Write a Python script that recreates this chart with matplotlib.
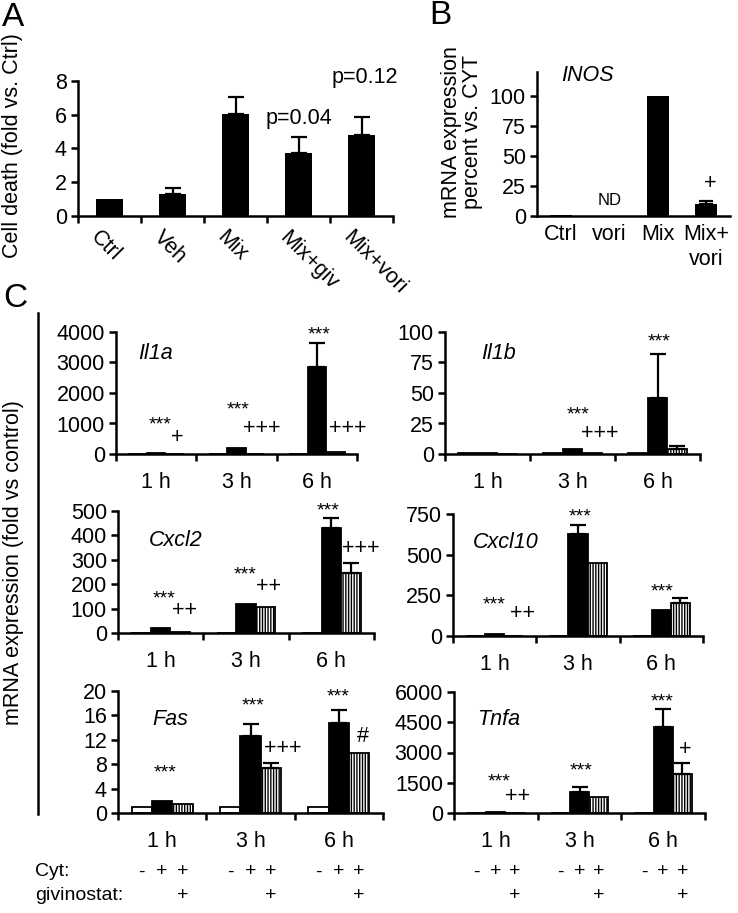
import matplotlib
matplotlib.use("Agg")
import matplotlib.pyplot as plt
from matplotlib.lines import Line2D
from matplotlib.transforms import blended_transform_factory, ScaledTranslation

plt.rcParams["font.family"] = ["Liberation Sans", "DejaVu Sans"]
plt.rcParams["hatch.linewidth"] = 1.0

# --- panel A: cell death ------------------------------------------------------
a_labels = ["Ctrl", "Veh", "Mix", "Mix+giv", "Mix+vori"]
a_vals = [1.0, 1.3, 6.05, 3.75, 4.82]
a_err = [0.0, 0.35, 1.0, 0.92, 1.05]

# --- panel B: iNOS ------------------------------------------------------------
b_labels = ["Ctrl", "vori", "Mix", "Mix+\nvori"]
b_vals = [1.0, 0.0, 100.0, 10.0]
b_err = [0.0, 0.0, 0.0, 2.8]

# --- panel C: time course (control, Cyt, Cyt+givinostat) -------------------
times = ["1 h", "3 h", "6 h"]
il1a_ctrl = [1, 1, 1]
il1a_cyt = [20, 210, 2850]
il1a_giv = [5, 10, 80]
il1a_cyt_err = [0, 0, 790]
il1a_giv_err = [0, 0, 0]

il1b_ctrl = [0.5, 0.5, 0.5]
il1b_cyt = [0.8, 4.5, 46]
il1b_giv = [0.3, 0.5, 4]
il1b_cyt_err = [0, 0, 36]
il1b_giv_err = [0, 0, 2.5]

cxcl2_ctrl = [2, 2, 2]
cxcl2_cyt = [20, 118, 430]
cxcl2_giv = [5, 105, 245]
cxcl2_cyt_err = [0, 0, 40]
cxcl2_giv_err = [0, 0, 40]

cxcl10_ctrl = [2, 2, 2]
cxcl10_cyt = [10, 630, 160]
cxcl10_giv = [3, 450, 205]
cxcl10_cyt_err = [0, 50, 0]
cxcl10_giv_err = [0, 0, 30]

fas_ctrl = [1, 1, 1]
fas_cyt = [2.0, 12.6, 14.8]
fas_giv = [1.5, 7.3, 9.8]
fas_cyt_err = [0, 2.0, 2.1]
fas_giv_err = [0, 0.9, 0]

tnfa_ctrl = [1, 1, 1]
tnfa_cyt = [40, 1050, 4250]
tnfa_giv = [15, 780, 1950]
tnfa_cyt_err = [0, 250, 900]
tnfa_giv_err = [0, 0, 550]

# significance marks: (x in group units, y value, text)
il1a_marks = [(0.55, 1020, "***"), (0.76, 525, "+"), (1.52, 1540, "***"), (1.82, 850, "+++"),
              (2.53, 3970, "***"), (2.88, 850, "+++")]
il1b_marks = [(1.565, 34, "***"), (1.82, 17, "+++"), (2.52, 94, "***")]
cxcl2_marks = [(0.54, 148, "***"), (0.785, 94, "++"), (1.49, 246, "***"), (1.76, 189, "++"),
               (2.46, 512, "***"), (2.84, 348, "+++")]
cxcl10_marks = [(0.49, 203, "***"), (0.83, 141, "++"), (1.52, 744, "***"), (2.51, 283, "***")]
fas_marks = [(0.53, 7.0, "***"), (1.53, 18.0, "***"), (1.87, 10.5, "+++"), (2.49, 19.5, "***"),
             (2.77, 12.5, "#")]
tnfa_marks = [(0.54, 1640, "***"), (0.76, 794, "++"), (1.52, 2180, "***"), (2.49, 5650, "***"),
              (2.76, 3170, "+")]

W, H = 738, 913
fig = plt.figure(figsize=(W / 100, H / 100), dpi=100)


def px_axes(x0, x1, ytop, ybot):
    return fig.add_axes([x0 / W, 1 - ybot / H, (x1 - x0) / W, (ybot - ytop) / H])


FS = 15.5


def base_style(ax):
    for s in ("top", "right"):
        ax.spines[s].set_visible(False)
    for s in ("left", "bottom"):
        ax.spines[s].set_linewidth(1.8)
    ax.tick_params(axis="both", which="major", direction="out", length=5, width=1.8,
                   labelsize=FS, pad=3)


# ---------------- A ----------------
ax = px_axes(78, 393, 81, 216)
base_style(ax)
xa = list(range(len(a_labels)))
ax.bar(xa, a_vals, width=0.44, color="black")
for x, v, e in zip(xa, a_vals, a_err):
    if e > 0:
        ax.errorbar(x, v, yerr=[[0], [e]], fmt="none", ecolor="black", elinewidth=1.6,
                    capsize=6, capthick=1.6)
ax.set_xlim(-0.5, len(a_labels) - 0.5)
ax.set_ylim(0, 8)
ax.set_yticks([0, 2, 4, 6, 8])
ax.set_xticks([i + 0.5 for i in range(-1, len(a_labels))])
ax.set_xticklabels([])
off = ScaledTranslation(-8 / 100, -11 / 100, fig.dpi_scale_trans)
for x, lab in zip(xa, a_labels):
    ax.text(x, 0, lab, rotation=-45, ha="left", va="top", rotation_mode="anchor",
            fontsize=FS, transform=ax.get_xaxis_transform() + off)
ax.text(3.0, 5.8, "p=0.04", ha="center", va="center", fontsize=FS)
ax.text(4.05, 8.2, "p=0.12", ha="center", va="center", fontsize=FS, clip_on=False)
fig.text(13 / W, 1 - 146 / H, "Cell death (fold vs. Ctrl)", rotation=90, ha="center",
         va="center", fontsize=FS)
fig.text(13 / W, 1 - 17 / H, "A", ha="center", va="center", fontsize=24)

# ---------------- B ----------------
ax = px_axes(537, 730, 72, 216)
base_style(ax)
xb = list(range(len(b_labels)))
ax.bar(xb, b_vals, width=0.46, color="black")
for x, v, e in zip(xb, b_vals, b_err):
    if e > 0:
        ax.errorbar(x, v, yerr=[[0], [e]], fmt="none", ecolor="black", elinewidth=1.6,
                    capsize=5, capthick=1.6)
ax.set_xlim(-0.5, len(b_labels) - 0.5)
ax.set_ylim(0, 120)
ax.set_yticks([0, 25, 50, 75, 100])
ax.set_xticks(xb)
ax.set_xticklabels(b_labels, fontsize=FS, linespacing=1.25)
ax.tick_params(axis="x", length=0, pad=6)
for lab in ax.get_xticklabels():
    lab.set_verticalalignment("top")
ax.text(1, 13, "ND", ha="center", va="center", fontsize=12)
ax.text(3.1, 27, "+", ha="center", va="center", fontsize=FS)
ax.text(0.55, 117, "INOS", ha="center", va="center", fontsize=FS, style="italic")
fig.text(462 / W, 1 - 132 / H, "mRNA expression\npercent vs. CYT", rotation=90,
         ha="center", va="center", multialignment="center", fontsize=FS, linespacing=1.0)
fig.text(440 / W, 1 - 15 / H, "B", ha="center", va="center", fontsize=24)

# ---------------- C ----------------
BW = 0.23


def panel_c(rect, ctrl, cyt, giv, cyt_err, giv_err, ymax, yticks, gene, gene_xy, marks):
    ax = px_axes(*rect)
    base_style(ax)
    for g in range(len(times)):
        c = g + 0.5
        ax.bar(c - BW, ctrl[g], width=BW, facecolor="white", edgecolor="black", linewidth=1.3)
        ax.bar(c, cyt[g], width=BW, facecolor="black", edgecolor="black", linewidth=1.3)
        ax.bar(c + BW, giv[g], width=BW, facecolor="white", edgecolor="black", linewidth=1.3,
               hatch="||||||")
        if cyt_err[g] > 0:
            ax.errorbar(c, cyt[g], yerr=[[0], [cyt_err[g]]], fmt="none", ecolor="black",
                        elinewidth=1.6, capsize=6, capthick=1.6)
        if giv_err[g] > 0:
            ax.errorbar(c + BW, giv[g], yerr=[[0], [giv_err[g]]], fmt="none", ecolor="black",
                        elinewidth=1.6, capsize=6, capthick=1.6)
    ax.set_xlim(0, len(times))
    ax.set_ylim(0, ymax)
    ax.set_yticks(yticks)
    ax.set_xticks(range(len(times) + 1))
    ax.set_xticklabels([])
    ax.set_xticks([g + 0.5 for g in range(len(times))], minor=True)
    ax.set_xticklabels(times, minor=True, fontsize=FS)
    ax.tick_params(axis="x", which="minor", length=0, pad=13)
    for x, y, t in marks:
        if "*" in t:
            ax.text(x, y - 0.02 * ymax, t, ha="center", va="center", fontsize=14,
                    clip_on=False)
        else:
            ax.text(x, y, t, ha="center", va="center", fontsize=FS, clip_on=False)
    ax.text(gene_xy[0], gene_xy[1], gene, ha="left", va="center", fontsize=FS,
            style="italic", transform=ax.transAxes)
    return ax


panel_c((116, 357, 332, 454), il1a_ctrl, il1a_cyt, il1a_giv, il1a_cyt_err, il1a_giv_err,
        4000, [0, 1000, 2000, 3000, 4000], "Il1a", (0.09, 0.82), il1a_marks)
panel_c((445, 700, 332, 454), il1b_ctrl, il1b_cyt, il1b_giv, il1b_cyt_err, il1b_giv_err,
        100, [0, 25, 50, 75, 100], "Il1b", (0.14, 0.82), il1b_marks)
panel_c((118, 374, 511, 633), cxcl2_ctrl, cxcl2_cyt, cxcl2_giv, cxcl2_cyt_err, cxcl2_giv_err,
        500, [0, 100, 200, 300, 400, 500], "Cxcl2", (0.12, 0.76), cxcl2_marks)
panel_c((453, 703, 514, 636), cxcl10_ctrl, cxcl10_cyt, cxcl10_giv, cxcl10_cyt_err,
        cxcl10_giv_err, 750, [0, 250, 500, 750], "Cxcl10", (0.08, 0.77), cxcl10_marks)
ax_fas = panel_c((118, 383, 691, 813), fas_ctrl, fas_cyt, fas_giv, fas_cyt_err, fas_giv_err,
                 20, [0, 4, 8, 12, 16, 20], "Fas", (0.13, 0.77), fas_marks)
ax_tnf = panel_c((454, 705, 692, 813), tnfa_ctrl, tnfa_cyt, tnfa_giv, tnfa_cyt_err,
                 tnfa_giv_err, 6000, [0, 1500, 3000, 4500, 6000], "Tnfa", (0.09, 0.77),
                 tnfa_marks)

# treatment legend under the bottom row
Y1, Y2, LFS = 1 - 872 / H, 1 - 895 / H, 14
fig.text(35 / W, Y1, "Cyt:", ha="left", va="center", fontsize=LFS)
fig.text(35 / W, Y2, "givinostat:", ha="left", va="center", fontsize=LFS)
for ax in (ax_fas, ax_tnf):
    tr = blended_transform_factory(ax.transData, fig.transFigure)
    for g in range(len(times)):
        c = g + 0.5
        ax.text(c - BW, Y1, "-", ha="center", va="center", fontsize=LFS, transform=tr)
        ax.text(c, Y1, "+", ha="center", va="center", fontsize=LFS, transform=tr)
        ax.text(c + BW, Y1, "+", ha="center", va="center", fontsize=LFS, transform=tr)
        ax.text(c + BW, Y2, "+", ha="center", va="center", fontsize=LFS, transform=tr)

fig.add_artist(Line2D([38 / W, 38 / W], [1 - 313 / H, 1 - 814 / H], color="black", lw=1.8,
                      transform=fig.transFigure))
fig.text(14 / W, 1 - 563 / H, "mRNA expression (fold vs control)", rotation=90, ha="center",
         va="center", fontsize=FS)
fig.text(15 / W, 1 - 298 / H, "C", ha="center", va="center", fontsize=24)

fig.savefig("out.png", dpi=100)
